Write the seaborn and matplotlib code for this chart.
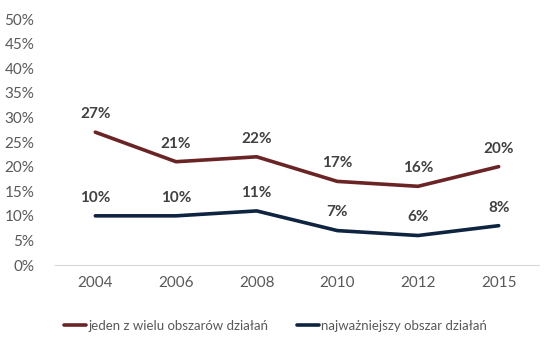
import matplotlib
matplotlib.use("Agg")
import matplotlib.pyplot as plt
import seaborn as sns
import pandas as pd

years = ["2004", "2006", "2008", "2010", "2012", "2015"]
jeden = [27, 21, 22, 17, 16, 20]
najwazniejszy = [10, 10, 11, 7, 6, 8]
series_names = ["jeden z wielu obszarów działań", "najważniejszy obszar działań"]
colors = ["#6B2425", "#0F2440"]

sns.set_style("white")
plt.rcParams["font.family"] = ["Lato", "DejaVu Sans"]

df = pd.DataFrame({
    "rok": years * 2,
    "x": list(range(len(years))) * 2,
    "wartosc": jeden + najwazniejszy,
    "seria": [series_names[0]] * len(years) + [series_names[1]] * len(years),
})

fig = plt.figure(figsize=(5.5, 3.46), dpi=100)
ax = fig.add_axes([0.1, 0.234, 0.88, 0.711])
sns.lineplot(data=df, x="x", y="wartosc", hue="seria", palette=colors,
             linewidth=2.6, ax=ax, legend=False)

txt = "#595959"
for vals in (jeden, najwazniejszy):
    for i, v in enumerate(vals):
        ax.annotate(f"{v}%", (i, v), xytext=(0, 8), textcoords="offset points",
                    ha="center", va="bottom", fontsize=11, fontweight="bold", color="#404040")

ax.set_xlim(-0.5, len(years) - 0.5)
ax.set_ylim(0, 50)
ax.set_yticks(range(0, 51, 5))
ax.set_yticklabels([f"{t}%" for t in range(0, 51, 5)], color=txt, fontsize=11)
ax.set_xticks(range(len(years)))
ax.set_xticklabels(years, color=txt, fontsize=11)
ax.tick_params(axis="both", length=0)
ax.tick_params(axis="x", pad=8)
ax.tick_params(axis="y", pad=15)
for s in ["top", "right", "left"]:
    ax.spines[s].set_visible(False)
ax.spines["bottom"].set_color("#D9D9D9")
ax.set_xlabel("")
ax.set_ylabel("")

from matplotlib.lines import Line2D
handles = [Line2D([], [], color=c, lw=2.6) for c in colors]
fig.legend(handles, series_names, loc="center left", bbox_to_anchor=(0.094, 0.058),
           ncol=2, frameon=False, fontsize=9.5, labelcolor=txt,
           handlelength=1.7, handletextpad=0.15, columnspacing=2.2)

fig.savefig("out.png", dpi=100)
